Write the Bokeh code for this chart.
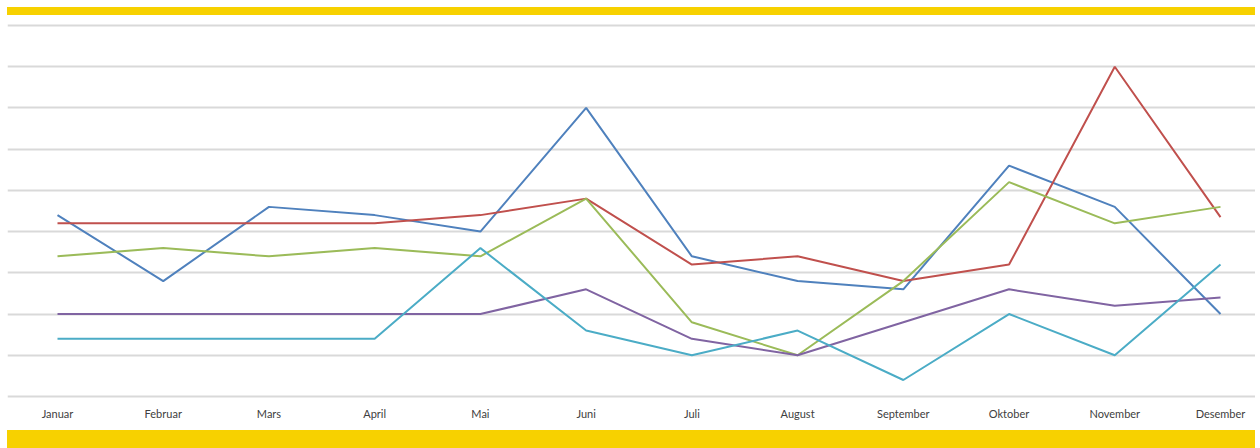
from bokeh.plotting import figure
from bokeh.models import Range1d, FixedTicker, Div
from bokeh.layouts import column
from bokeh.embed import file_html
from bokeh.resources import INLINE

months = ["Januar", "Februar", "Mars", "April", "Mai", "Juni", "Juli",
          "August", "September", "Oktober", "November", "Desember"]

serie_blaa = [4.4, 2.8, 4.6, 4.4, 4.0, 7.0, 3.4, 2.8, 2.6, 5.6, 4.6, 2.0]
serie_roed = [4.2, 4.2, 4.2, 4.2, 4.4, 4.8, 3.2, 3.4, 2.8, 3.2, 8.0, 4.35]
serie_groenn = [3.4, 3.6, 3.4, 3.6, 3.4, 4.8, 1.8, 1.0, 2.8, 5.2, 4.2, 4.6]
serie_lilla = [2.0, 2.0, 2.0, 2.0, 2.0, 2.6, 1.4, 1.0, 1.8, 2.6, 2.2, 2.4]
serie_turkis = [1.4, 1.4, 1.4, 1.4, 3.6, 1.6, 1.0, 1.6, 0.4, 2.0, 1.0, 3.2]

grid_values = list(range(0, 10))

series = [
    (serie_blaa, "#4F81BD"),
    (serie_roed, "#C0504D"),
    (serie_groenn, "#9BBB59"),
    (serie_lilla, "#8064A2"),
    (serie_turkis, "#4BACC6"),
]

LEFT = 7
W = 1255
YELLOW = "#F7D100"

x = list(range(len(months)))

p = figure(width=W, height=415, output_backend="svg", toolbar_location=None,
           x_range=Range1d(-0.4729, 11.331), y_range=Range1d(-0.097, 9.121),
           y_axis_location=None, min_border_left=LEFT, min_border_right=0,
           min_border_top=5, min_border_bottom=30, margin=0)
p.outline_line_color = None
p.background_fill_color = "white"
p.border_fill_color = "white"

p.xgrid.visible = False
p.ygrid.ticker = FixedTicker(ticks=grid_values)
p.ygrid.grid_line_color = "#D9D9D9"
p.ygrid.grid_line_width = 2

p.xaxis.ticker = FixedTicker(ticks=x)
p.xaxis.major_label_overrides = {i: m for i, m in zip(x, months)}
p.xaxis.axis_line_color = None
p.xaxis.major_tick_line_color = None
p.xaxis.minor_tick_line_color = None
p.xaxis.major_tick_out = 0
p.xaxis.major_label_standoff = 6
p.xaxis.major_label_text_font = "Lato"
p.xaxis.major_label_text_font_size = "11px"
p.xaxis.major_label_text_color = "#404040"

for vals, col in series:
    p.line(x, vals, line_color=col, line_width=2)

top_bar = Div(text="", width=W - LEFT, height=8, margin=(7, 0, 0, LEFT),
              styles={"background-color": YELLOW})
bottom_bar = Div(text="", width=W - LEFT, height=18, margin=(0, 0, 0, LEFT),
                 styles={"background-color": YELLOW})

layout = column(top_bar, p, bottom_bar, spacing=0)

open("out.html", "w").write(file_html(layout, INLINE))
